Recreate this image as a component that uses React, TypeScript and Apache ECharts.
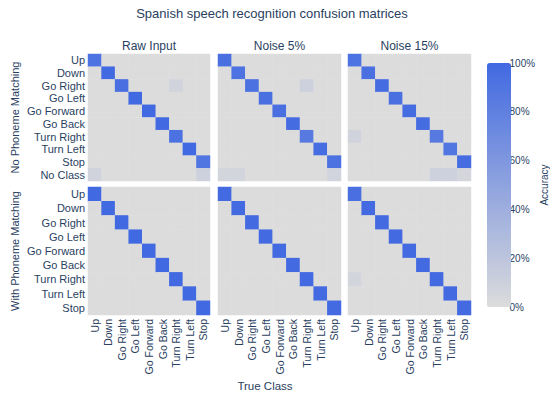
import React, { useEffect, useRef } from "react";
import * as echarts from "echarts";

const trueClasses = ["Up", "Down", "Go Right", "Go Left", "Go Forward", "Go Back", "Turn Right", "Turn Left", "Stop"];
const predNoPM = [...trueClasses, "No Class"];
const panelTitles = ["Raw Input", "Noise 5%", "Noise 15%"];
const rowTitles = ["No Phoneme Matching", "With Phoneme Matching"];
const mainTitle = "Spanish speech recognition confusion matrices";
const xTitle = "True Class";
const colorbarTitle = "Accuracy";

// diagonal accuracies (true class == predicted class)
const noPmRawDiag = [0.92, 1.0, 0.95, 1.0, 1.0, 1.0, 0.93, 1.0, 0.9];
const noPmN5Diag = [0.95, 0.92, 0.93, 0.95, 0.95, 0.97, 0.85, 0.97, 0.93];
const noPmN15Diag = [0.92, 0.95, 0.97, 0.95, 0.97, 0.97, 0.86, 0.9, 0.97];
const pmRawDiag = [1.0, 1.0, 1.0, 1.0, 1.0, 1.0, 1.0, 1.0, 1.0];
const pmN5Diag = [0.99, 0.99, 0.99, 0.99, 0.99, 0.99, 0.99, 0.99, 0.99];
const pmN15Diag = [0.95, 0.99, 0.99, 0.99, 0.99, 0.99, 0.99, 0.99, 0.99];

// off-diagonal cells: [trueIndex, predictedIndex, value]
const noPmRawOff = [[6, 2, 0.07], [0, 9, 0.08], [8, 9, 0.1]];
const noPmN5Off = [[6, 2, 0.1], [0, 9, 0.06], [1, 9, 0.06], [8, 9, 0.07]];
const noPmN15Off = [[0, 6, 0.08], [6, 9, 0.1], [7, 9, 0.1], [8, 9, 0.05]];
const pmRawOff: number[][] = [];
const pmN5Off: number[][] = [];
const pmN15Off = [[0, 6, 0.06]];

const FONT = "Liberation Sans, Arial, sans-serif";
const TXT = "#2a3f5f";

function buildCells(diag: number[], off: number[][], nRows: number) {
  const m: number[][] = [];
  for (let x = 0; x < trueClasses.length; x++) {
    m.push([]);
    for (let y = 0; y < nRows; y++) m[x].push(x === y ? diag[x] : 0);
  }
  off.forEach(([x, y, v]) => (m[x][y] = v));
  const data: number[][] = [];
  for (let x = 0; x < m.length; x++) for (let y = 0; y < nRows; y++) data.push([x, y, m[x][y]]);
  return data;
}

const panels = [
  { diag: noPmRawDiag, off: noPmRawOff, rows: predNoPM },
  { diag: noPmN5Diag, off: noPmN5Off, rows: predNoPM },
  { diag: noPmN15Diag, off: noPmN15Off, rows: predNoPM },
  { diag: pmRawDiag, off: pmRawOff, rows: trueClasses },
  { diag: pmN5Diag, off: pmN5Off, rows: trueClasses },
  { diag: pmN15Diag, off: pmN15Off, rows: trueClasses },
];

const colLeft = [88, 218, 348];
const colWidth = [122, 123, 123];
const rowTop = [54, 187];
const rowHeight = [127, 128];

export default function App() {
  const ref = useRef<HTMLDivElement>(null);
  useEffect(() => {
    const chart = echarts.init(ref.current!, null, { renderer: "svg" });
    const grid: any[] = [];
    const xAxis: any[] = [];
    const yAxis: any[] = [];
    const series: any[] = [];
    panels.forEach((p, i) => {
      const r = Math.floor(i / 3);
      const c = i % 3;
      grid.push({ left: colLeft[c], width: colWidth[c], top: rowTop[r], height: rowHeight[r], containLabel: false });
      xAxis.push({
        type: "category",
        gridIndex: i,
        data: trueClasses,
        axisLine: { show: false },
        axisTick: { show: false },
        splitLine: { show: false },
        axisLabel: r === 1 ? { show: true, rotate: 90, interval: 0, fontSize: 10.5, color: TXT, fontFamily: FONT, margin: 4 } : { show: false },
      });
      yAxis.push({
        type: "category",
        gridIndex: i,
        data: p.rows,
        inverse: true,
        axisLine: { show: false },
        axisTick: { show: false },
        splitLine: { show: false },
        axisLabel: c === 0 ? { show: true, interval: 0, fontSize: 11, color: TXT, fontFamily: FONT, margin: 3 } : { show: false },
      });
      series.push({
        type: "heatmap",
        xAxisIndex: i,
        yAxisIndex: i,
        data: buildCells(p.diag, p.off, p.rows.length),
        itemStyle: { borderWidth: 0 },
        emphasis: { disabled: true },
      });
    });
    // colorbar axis
    grid.push({ left: 487, width: 24, top: 63, height: 244 });
    xAxis.push({ type: "value", gridIndex: 6, show: false });
    yAxis.push({
      type: "value",
      gridIndex: 6,
      position: "right",
      min: 0,
      max: 1,
      interval: 0.2,
      axisLine: { show: false },
      axisTick: { show: false },
      splitLine: { show: false },
      axisLabel: { fontSize: 10, color: TXT, fontFamily: FONT, margin: 3, formatter: (v: number) => Math.round(v * 100) + "%" },
      name: colorbarTitle,
      nameLocation: "middle",
      nameRotate: 90,
      nameGap: 25,
      nameTextStyle: { fontSize: 10, color: TXT, fontFamily: FONT },
    });

    const graphicTexts: any[] = [
      { type: "text", x: 272, y: 13, style: { text: mainTitle, fill: TXT, fontSize: 13, fontFamily: FONT, align: "center", verticalAlign: "middle" } },
      { type: "text", x: 265, y: 386, style: { text: xTitle, fill: TXT, fontSize: 11.5, fontFamily: FONT, align: "center", verticalAlign: "middle" } },
    ];
    panelTitles.forEach((t, c) => {
      graphicTexts.push({ type: "text", x: colLeft[c] + colWidth[c] / 2, y: 46, style: { text: t, fill: TXT, fontSize: 12, fontFamily: FONT, align: "center", verticalAlign: "middle" } });
    });
    rowTitles.forEach((t, r) => {
      graphicTexts.push({ type: "text", x: 15, y: rowTop[r] + rowHeight[r] / 2, rotation: Math.PI / 2, style: { text: t, fill: TXT, fontSize: 11, fontFamily: FONT, align: "center", verticalAlign: "middle" } });
    });

    chart.setOption({
      animation: false,
      backgroundColor: "#ffffff",
      grid,
      xAxis,
      yAxis,
      series,
      visualMap: {
        type: "continuous",
        min: 0,
        max: 1,
        seriesIndex: [0, 1, 2, 3, 4, 5],
        calculable: false,
        orient: "vertical",
        left: 487,
        top: 63,
        itemWidth: 24,
        itemHeight: 244,
        padding: 0,
        text: null,
        showLabel: false,
        hoverLink: false,
        inRange: { color: ["#dcdcdc", "#4169e1"] },
      },
      graphic: graphicTexts,
    });
    return () => chart.dispose();
  }, []);
  return <div ref={ref} style={{ position: "fixed", left: 0, top: 0, width: 550, height: 395 }} />;
}
